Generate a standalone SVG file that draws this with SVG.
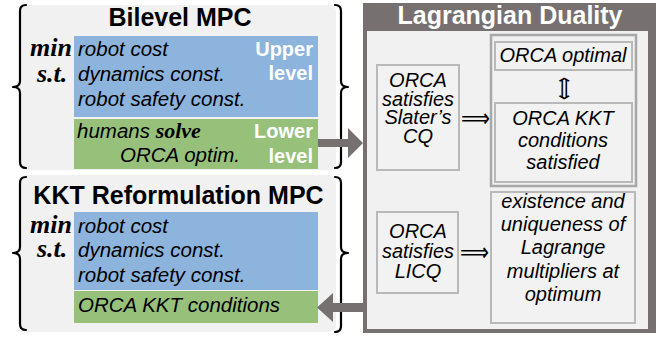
<svg xmlns="http://www.w3.org/2000/svg" width="661" height="337" viewBox="0 0 661 337">
  <style>
    .panel { fill: #f1f1f1; }
    .upper { fill: #8cb4dd; }
    .lower { fill: #97c07b; }
    .brace { fill: none; stroke: #000; stroke-width: 2.2; stroke-linecap: round; stroke-linejoin: round; }
    .title { font-family: "Liberation Sans", Arial, sans-serif; font-weight: bold; font-size: 25px; fill: #000; }
    .body { font-family: "Liberation Sans", Arial, sans-serif; font-style: italic; font-size: 20.5px; fill: #000; }
    .math { font-family: "Liberation Serif", "Times New Roman", serif; font-style: italic; font-weight: bold; font-size: 26px; fill: #000; }
    .tag { font-family: "Liberation Sans", Arial, sans-serif; font-weight: bold; font-size: 20px; fill: #fff; text-anchor: end; }
    .dual { fill: #767170; }
    .inner { fill: #f1f1f1; }
    .box { fill: #f2f2f2; stroke: #b9b9b9; stroke-width: 2; }
    .outer { fill: #f1f1f1; stroke: #a8a8a8; stroke-width: 2.5; }
    .cond { font-family: "Liberation Sans", Arial, sans-serif; font-style: italic; font-size: 20px; fill: #000; text-anchor: middle; }
    .sym { font-family: "DejaVu Sans", sans-serif; font-size: 26px; fill: #000; }
    .link { fill: #767170; }
  </style>

  <!-- Bilevel MPC -->
  <g id="bilevel-mpc">
    <rect class="panel" x="20" y="5" width="316" height="165" rx="6"/>
    <rect class="upper" x="74" y="36" width="244" height="81"/>
    <rect class="lower" x="74" y="119" width="244" height="50"/>
    <path class="brace" d="M26 5 Q20 5 20 11 L20 81 Q20 87 13 87 Q20 87 20 93 L20 162 Q20 168 26 168"/>
    <path class="brace" d="M335 5 Q341 5 341 11 L341 81 Q341 87 348 87 Q341 87 341 93 L341 162 Q341 168 335 168"/>
    <text class="title" x="180" y="26" text-anchor="middle">Bilevel MPC</text>
    <text class="math" x="30" y="56">min</text>
    <text class="math" x="37" y="82">s.t.</text>
    <text class="body" x="78" y="56">robot cost</text>
    <text class="body" x="78" y="81">dynamics const.</text>
    <text class="body" x="78" y="106">robot safety const.</text>
    <text class="tag" x="313" y="56">Upper</text>
    <text class="tag" x="313" y="80">level</text>
    <text class="body" x="77" y="138">humans <tspan font-family="'Liberation Serif', 'Times New Roman', serif" font-weight="bold" font-size="22px">solve</tspan></text>
    <text class="body" x="120" y="162">ORCA optim.</text>
    <text class="tag" x="313" y="138">Lower</text>
    <text class="tag" x="313" y="163">level</text>
  </g>

  <!-- KKT Reformulation MPC -->
  <g id="kkt-mpc">
    <rect class="panel" x="20" y="175" width="316" height="157" rx="6"/>
    <rect class="upper" x="74" y="212" width="244" height="78"/>
    <rect class="lower" x="74" y="291" width="244" height="32"/>
    <path class="brace" d="M26 177 Q20 177 20 183 L20 247 Q20 253 13 253 Q20 253 20 259 L20 324 Q20 330 26 330"/>
    <path class="brace" d="M335 177 Q341 177 341 183 L341 247 Q341 253 348 253 Q341 253 341 259 L341 326 Q341 332 335 332"/>
    <text class="title" x="178.5" y="204" text-anchor="middle">KKT Reformulation MPC</text>
    <text class="math" x="30" y="233">min</text>
    <text class="math" x="37" y="257">s.t.</text>
    <text class="body" x="78" y="233">robot cost</text>
    <text class="body" x="78" y="257">dynamics const.</text>
    <text class="body" x="78" y="282">robot safety const.</text>
    <text class="body" x="78" y="312">ORCA KKT conditions</text>
  </g>

  <!-- Lagrangian Duality frame -->
  <g id="lagrangian-duality">
    <rect class="dual" x="363" y="3" width="293" height="330"/>
    <rect class="inner" x="367" y="31" width="281" height="298"/>
    <text class="title" x="510" y="24" text-anchor="middle" style="fill:#fff">Lagrangian Duality</text>
  </g>

  <g id="slater">
    <rect class="box" x="377" y="65" width="82" height="105"/>
    <text class="cond" x="418" y="87" font-size="19px">ORCA</text>
    <text class="cond" x="418" y="105.5" font-size="19px" textLength="72" lengthAdjust="spacingAndGlyphs">satisfies</text>
    <text class="cond" x="418" y="124" font-size="19px">Slater’s</text>
    <text class="cond" x="418" y="142.5" font-size="19px">CQ</text>
  </g>

  <g id="optimality">
    <rect class="outer" x="491" y="35" width="145" height="151"/>
  </g>

  <g id="orca-optimal">
    <rect class="box" x="495" y="42" width="137" height="28"/>
    <text class="cond" x="563" y="62">ORCA optimal</text>
  </g>

  <g id="orca-kkt">
    <rect class="box" x="495" y="103" width="137" height="79"/>
    <text class="cond" x="563" y="125" font-size="21px">ORCA KKT</text>
    <text class="cond" x="563" y="147" font-size="21px">conditions</text>
    <text class="cond" x="563" y="169" font-size="21px">satisfied</text>
  </g>

  <g id="licq">
    <rect class="box" x="377" y="212" width="81" height="81"/>
    <text class="cond" x="418" y="238" font-size="19px">ORCA</text>
    <text class="cond" x="418" y="258" font-size="19px" textLength="72" lengthAdjust="spacingAndGlyphs">satisfies</text>
    <text class="cond" x="418" y="278" font-size="19px">LICQ</text>
  </g>

  <g id="multipliers">
    <rect class="box" x="491" y="192" width="144" height="131"/>
    <text class="cond" x="563" y="208" font-size="21px">existence and</text>
    <text class="cond" x="563" y="231" font-size="21px">uniqueness of</text>
    <text class="cond" x="563" y="254" font-size="21px">Lagrange</text>
    <text class="cond" x="563" y="278" font-size="21px">multipliers at</text>
    <text class="cond" x="563" y="301" font-size="21px">optimum</text>
  </g>

  <!-- connectors -->
  <g id="connectors">
    <path class="link" d="M318 139 L348 139 L348 128 L363 143 L348 158 L348 147 L318 147 Z"/>
    <path class="link" d="M363 303 L333 303 L333 293 L317 307.5 L333 322 L333 312 L363 312 Z"/>
    <text class="sym" x="461" y="126.5" textLength="29" lengthAdjust="spacingAndGlyphs">⟹</text>
    <text class="sym" x="460" y="261" textLength="29" lengthAdjust="spacingAndGlyphs">⟹</text>
    <text class="sym" transform="translate(556 77) rotate(90)" x="0" y="0" font-size="17px" textLength="23" lengthAdjust="spacingAndGlyphs">⟺</text>
  </g>
</svg>
